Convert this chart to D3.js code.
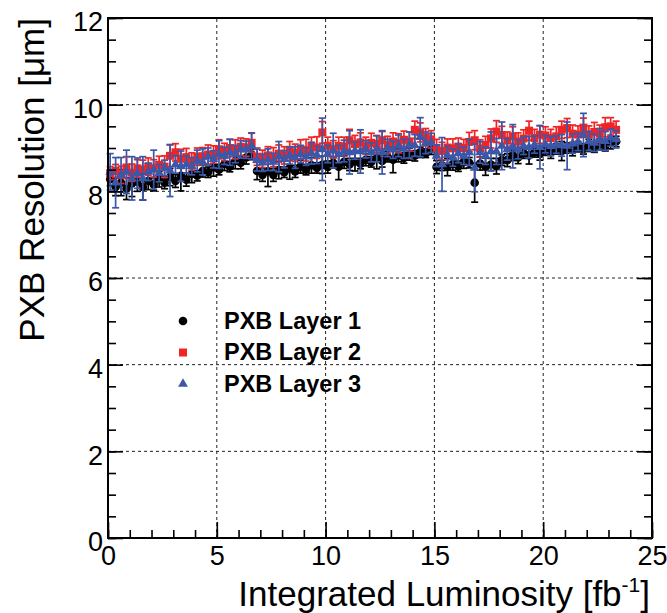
<!DOCTYPE html>
<html><head><meta charset="utf-8">
<script src="https://cdn.jsdelivr.net/npm/d3@7"></script>
<style>body{margin:0;background:#fff}svg{display:block}text{font-family:"Liberation Sans",Arial,sans-serif}</style>
</head><body><svg id="c" width="667" height="613"></svg>
<script>
const lumi = [0.1,0.35,0.6,0.85,1.1,1.35,1.6,1.85,2.1,2.35,2.6,2.85,3.1,3.35,3.6,3.85,4.1,4.35,4.6,4.85,5.1,5.35,5.6,5.85,6.1,6.35,6.6,
6.85,7.1,7.35,7.6,7.85,8.1,8.35,8.6,8.85,9.1,9.35,9.6,9.85,10.1,10.35,10.6,10.85,11.1,11.35,11.6,11.85,12.1,12.35,12.6,12.85,13.1,13.35,13.6,13.85,14.1,14.35,14.6,14.85,
15.1,15.35,15.6,15.85,16.1,16.35,16.6,16.85,17.1,17.35,17.6,17.85,18.1,18.35,18.6,18.85,19.1,19.35,19.6,19.85,20.1,20.35,20.6,20.85,21.1,21.35,21.6,21.85,22.1,22.35,22.6,22.85,23.1,23.35];

const layer1 = [8.28,8.1,8.2,8.06,8.18,8.22,8.1,8.24,8.16,8.28,8.2,8.33,8.24,8.36,8.27,8.4,8.36,8.47,8.44,8.55,8.5,8.63,8.57,8.7,8.66,8.78,8.85,
8.47,8.38,8.46,8.38,8.49,8.44,8.53,8.46,8.57,8.5,8.6,8.54,8.61,8.56,8.66,8.57,8.68,8.62,8.69,8.64,8.73,8.68,8.77,8.7,8.8,8.73,8.83,8.77,8.86,8.82,8.9,8.88,8.97,
8.56,8.6,8.56,8.63,8.58,8.68,8.66,8.2,8.64,8.57,8.62,8.58,8.72,8.72,8.83,8.78,8.88,8.83,8.91,8.86,8.95,8.9,8.98,8.93,9.0,8.96,9.03,8.98,9.06,9.02,9.09,9.05,9.12,9.15];
const layer1Err = [0.15,0.2,0.3,0.25,0.3,0.22,0.3,0.2,0.15,0.18,0.14,0.2,0.15,0.35,0.15,0.2,0.12,0.14,0.12,0.2,0.12,0.15,0.12,0.18,0.14,0.15,0.12,
0.2,0.15,0.35,0.15,0.2,0.12,0.25,0.14,0.15,0.12,0.18,0.12,0.2,0.14,0.12,0.3,0.15,0.14,0.22,0.12,0.14,0.12,0.25,0.14,0.12,0.3,0.15,0.12,0.14,0.12,0.12,0.1,0.12,
0.15,0.12,0.2,0.14,0.12,0.15,0.12,0.45,0.15,0.2,0.14,0.18,0.12,0.15,0.12,0.14,0.12,0.2,0.12,0.14,0.12,0.14,0.12,0.22,0.12,0.14,0.12,0.12,0.14,0.12,0.12,0.12,0.14,0.12];

const layer2 = [8.42,8.47,8.38,8.55,8.43,8.53,8.5,8.57,8.53,8.61,8.57,8.82,8.9,8.75,8.79,8.69,8.8,8.81,8.85,8.85,8.97,8.91,9.0,8.97,9.03,9.01,9.12,
8.8,8.75,8.83,8.79,8.87,8.83,8.93,8.89,8.97,8.95,9.05,9.01,9.36,9.05,8.97,9.05,9.03,9.18,9.09,9.13,9.05,9.12,9.09,9.18,9.07,9.15,9.11,9.19,9.15,9.42,9.36,9.25,9.2,
9.0,8.93,9.01,8.99,9.03,9.0,9.14,9.18,8.99,9.07,9.22,9.38,9.3,9.17,9.27,9.15,9.22,9.4,9.23,9.31,9.29,9.23,9.27,9.42,9.46,9.33,9.31,9.47,9.31,9.37,9.33,9.48,9.5,9.42];
const layer2Err = [0.15,0.15,0.2,0.25,0.2,0.2,0.22,0.2,0.2,0.2,0.25,0.25,0.2,0.22,0.2,0.2,0.2,0.2,0.22,0.2,0.22,0.2,0.2,0.22,0.2,0.2,0.22,
0.2,0.2,0.2,0.22,0.2,0.2,0.22,0.2,0.22,0.25,0.2,0.25,0.25,0.2,0.2,0.2,0.22,0.25,0.2,0.22,0.2,0.22,0.2,0.2,0.2,0.2,0.22,0.2,0.22,0.2,0.22,0.2,0.2,
0.2,0.2,0.2,0.22,0.2,0.2,0.22,0.22,0.2,0.2,0.22,0.25,0.2,0.2,0.22,0.2,0.2,0.22,0.2,0.2,0.2,0.2,0.22,0.2,0.22,0.2,0.2,0.22,0.2,0.22,0.2,0.22,0.2,0.2];

const layer3 = [8.45,8.2,8.38,8.45,8.3,8.42,8.3,8.45,8.5,8.42,8.54,8.48,8.62,8.58,8.62,8.58,8.7,8.68,8.8,8.74,8.85,8.82,8.9,8.86,8.97,8.96,9.05,
8.72,8.66,8.73,8.68,8.8,8.74,8.83,8.78,8.86,8.8,8.88,8.84,8.97,8.86,8.94,8.86,8.93,8.9,8.94,8.92,8.97,8.9,8.98,8.9,9.0,8.96,9.05,8.98,9.07,9.06,9.25,9.12,9.12,
8.82,8.62,8.84,8.78,8.88,8.82,8.9,8.54,8.9,8.82,8.92,8.92,9.05,8.97,9.04,8.97,9.05,9.02,9.08,9.02,9.09,9.04,9.08,9.06,9.05,9.1,9.14,9.3,9.16,9.12,9.2,9.16,9.24,9.2];
const layer3Err = [0.42,0.58,0.4,0.5,0.5,0.35,0.5,0.2,0.45,0.2,0.18,0.6,0.2,0.35,0.2,0.2,0.25,0.3,0.2,0.2,0.32,0.2,0.3,0.2,0.2,0.2,0.3,
0.25,0.2,0.25,0.2,0.35,0.2,0.2,0.25,0.2,0.2,0.25,0.2,0.72,0.2,0.4,0.2,0.25,0.5,0.2,0.5,0.2,0.22,0.3,0.5,0.2,0.2,0.25,0.22,0.3,0.25,0.45,0.25,0.22,
0.25,0.62,0.2,0.2,0.22,0.2,0.3,0.55,0.25,0.2,0.45,0.3,0.55,0.25,0.5,0.22,0.2,0.25,0.2,0.5,0.2,0.22,0.2,0.25,0.55,0.22,0.2,0.5,0.22,0.2,0.25,0.22,0.2,0.2];

const xMajorTicks = [0,5,10,15,20,25];
const xMinorTicks = d3.range(0,26,1);
const yMajorTicks = [0,2,4,6,8,10,12];
const yMinorTicks = d3.range(0,12.01,0.5);
const legendLabels = ["PXB Layer 1","PXB Layer 2","PXB Layer 3"];
const colors = ["#000000","#f02424","#3a57aa"];

const svg = d3.select("#c");
const X0=108, X1=652, Y0=538, Y1=18;
const x = d3.scaleLinear().domain([0,25]).range([X0,X1]);
const y = d3.scaleLinear().domain([0,12]).range([Y0,Y1]);

// grid
const grid = svg.append("g").attr("stroke","#222").attr("stroke-width",1).attr("stroke-dasharray","3,3");
[5,10,15,20].forEach(v=>grid.append("line").attr("x1",x(v)).attr("x2",x(v)).attr("y1",Y0).attr("y2",Y1));
[2,4,6,8,10].forEach(v=>grid.append("line").attr("x1",X0).attr("x2",X1).attr("y1",y(v)).attr("y2",y(v)));

// data
const series = [
  {v:layer1, e:layer1Err, c:colors[0], sym:"circle"},
  {v:layer2, e:layer2Err, c:colors[1], sym:"square"},
  {v:layer3, e:layer3Err, c:colors[2], sym:"triangle"}
];
function marker(g, sym, c){
  if(sym==="circle") return g.append("circle").attr("r",4.3).attr("fill",c);
  const t = sym==="square"? d3.symbolSquare : d3.symbolTriangle;
  const s = sym==="square"? 64 : 42;
  return g.append("path").attr("d",d3.symbol(t,s)()).attr("fill",c);
}
series.forEach(s=>{
  const g = svg.append("g");
  lumi.forEach((L,i)=>{
    const cx=x(L), lo=y(s.v[i]-s.e[i]), hi=y(s.v[i]+s.e[i]);
    g.append("line").attr("x1",cx).attr("x2",cx).attr("y1",lo).attr("y2",hi).attr("stroke",s.c).attr("stroke-width",1.7);
    g.append("line").attr("x1",cx-3.5).attr("x2",cx+3.5).attr("y1",lo).attr("y2",lo).attr("stroke",s.c).attr("stroke-width",1.7);
    g.append("line").attr("x1",cx-3.5).attr("x2",cx+3.5).attr("y1",hi).attr("y2",hi).attr("stroke",s.c).attr("stroke-width",1.7);
    marker(g.append("g").attr("transform",`translate(${cx},${y(s.v[i])})`), s.sym, s.c);
  });
});

// axes
function styleAxis(g){ g.select(".domain").remove(); g.selectAll("line").attr("stroke","#000").attr("stroke-width",1.6);
  g.selectAll("text").attr("font-size",27).attr("fill","#000"); }
svg.append("g").attr("transform",`translate(0,${Y0})`).call(d3.axisBottom(x).tickValues(xMinorTicks).tickSize(-8).tickFormat("")).call(styleAxis);
svg.append("g").attr("transform",`translate(0,${Y0})`).call(d3.axisBottom(x).tickValues(xMajorTicks).tickSize(-16).tickPadding(8).tickFormat(d3.format("d"))).call(styleAxis);
svg.append("g").attr("transform",`translate(${X0},0)`).call(d3.axisLeft(y).tickValues(yMinorTicks).tickSize(-8).tickFormat("")).call(styleAxis);
svg.append("g").attr("transform",`translate(${X0},0)`).call(d3.axisLeft(y).tickValues(yMajorTicks).tickSize(-15).tickPadding(5).tickFormat(d3.format("d"))).call(styleAxis)
  .selectAll("text").attr("dy","0.48em");
svg.append("g").attr("transform",`translate(${X1},0)`).call(d3.axisRight(y).tickValues(yMinorTicks).tickSize(-8).tickFormat("")).call(styleAxis);
svg.append("g").attr("transform",`translate(${X1},0)`).call(d3.axisRight(y).tickValues(yMajorTicks).tickSize(-15).tickFormat("")).call(styleAxis);
svg.append("rect").attr("x",X0).attr("y",Y1).attr("width",X1-X0).attr("height",Y0-Y1).attr("fill","none").attr("stroke","#000").attr("stroke-width",2);

// titles
svg.append("text").attr("transform",`translate(44,${Y1}) rotate(-90)`).attr("text-anchor","end").attr("font-size",35)
  .text("PXB Resolution [μm]");
const xt = svg.append("text").attr("x",650).attr("y",606).attr("text-anchor","end").attr("font-size",35);
xt.append("tspan").text("Integrated Luminosity [fb");
xt.append("tspan").attr("font-size",21).attr("dy",-14).text("-1");
xt.append("tspan").attr("dy",14).text("]");

// legend
const lg = svg.append("g");
legendLabels.forEach((lab,i)=>{
  const yy = 321 + i*31.5;
  marker(lg.append("g").attr("transform",`translate(183,${yy})`), series[i].sym, series[i].c);
  lg.append("text").attr("x",224).attr("y",yy+7.5).attr("font-size",23.5).attr("font-weight","bold").text(lab);
});
</script></body></html>
